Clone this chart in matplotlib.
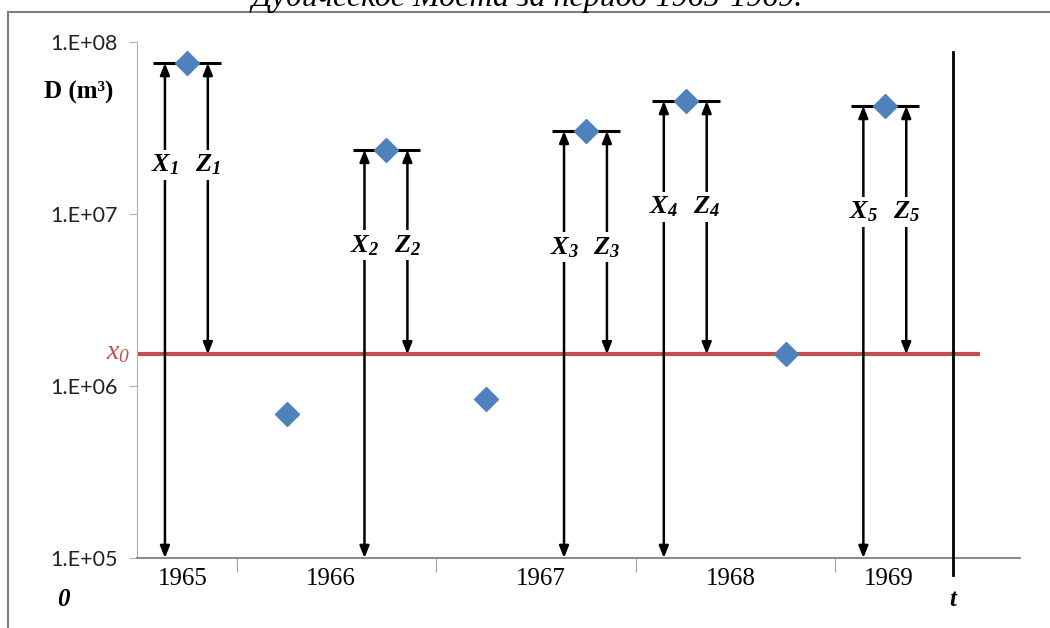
import numpy as np
import matplotlib.pyplot as plt
from matplotlib.lines import Line2D

plt.rcParams['mathtext.fontset'] = 'custom'
plt.rcParams['mathtext.it'] = 'Liberation Serif:italic:bold'
plt.rcParams['mathtext.rm'] = 'Liberation Serif:italic:bold'
plt.rcParams['mathtext.sf'] = 'Liberation Serif:italic'

# annual maxima of discharge volume D (m3), two per year
values = [7.55e7, 6.9e5, 2.36e7, 8.4e5, 3.04e7, 4.54e7, 1.53e6, 4.25e7]
x0 = 1.53e6
years = ['1965', '1966', '1967', '1968', '1969']
title = 'Дубическое Моста за период 1965-1969.'

# layout: where year captions and X/Z labels sit
year_pos = [0.96, 2.44, 4.55, 6.45, 8.03]
label_levels = [1.93e7, 6.6e6, 6.4e6, 1.1e7, 1.03e7]

W, H = 1050, 628
fig = plt.figure(figsize=(10.5, 6.28), dpi=100)
ax = fig.add_axes([137 / W, 1 - 558 / H, (1020 - 137) / W, (558 - 42) / H])
ax.set_yscale('log')
ax.set_xlim(0.5, 9.35)
ax.set_ylim(1e5, 1e8)

xs = np.arange(1, len(values) + 1)

# threshold line
ax.plot([0.5, 8.95], [x0, x0], color='#c0504d', lw=3, zorder=2, solid_capstyle='butt')

arrow = dict(arrowstyle='<|-|>,head_length=0.5,head_width=0.2', color='black',
             lw=1.8, shrinkA=0, shrinkB=0, mutation_scale=14)
lab = dict(fontsize=19, ha='center', va='center', zorder=6,
           bbox=dict(facecolor='white', edgecolor='none', pad=1.5))

k = 0
for x, v in zip(xs, values):
    if v <= x0:
        continue
    k += 1
    xa, za = x - 0.22, x + 0.21
    ax.hlines(v, x - 0.34, x + 0.34, color='black', lw=2.2, zorder=3)
    ax.annotate('', xy=(xa, v), xytext=(xa, 1e5), arrowprops=arrow, zorder=4,
                annotation_clip=False)
    ax.annotate('', xy=(za, v), xytext=(za, x0), arrowprops=arrow, zorder=4)
    ly = label_levels[k - 1]
    ax.text(xa, ly, r'$X_{%d}$' % k, **lab)
    ax.text(za, ly, r'$Z_{%d}$' % k, **lab)

ax.plot(xs, values, linestyle='none', marker='D', markersize=12,
        color='#4f81bd', markeredgecolor='#4f81bd', zorder=5)

# time axis end marker
ax.plot([8.68, 8.68], [10 ** 7.942, 10 ** 4.9], color='black', lw=2,
        clip_on=False, zorder=3)

# axes styling
for s in ['top', 'right']:
    ax.spines[s].set_visible(False)
ax.spines['left'].set_color('#b0b0b0')
ax.spines['bottom'].set_color('#808080')
ax.spines['bottom'].set_linewidth(1.3)

ax.set_yticks([1e5, 1e6, 1e7, 1e8])
ax.set_yticklabels(['1.E+05', '1.E+06', '1.E+07', '1.E+08'],
                   fontfamily='Lato', fontsize=15.5, color='#222222')
ax.yaxis.set_minor_locator(plt.NullLocator())
ax.tick_params(axis='y', which='major', direction='out', length=6, pad=8,
               color='#b0b0b0')

ax.set_xticks([1.5, 3.5, 5.5, 7.5])
ax.set_xticklabels([])
ax.tick_params(axis='x', which='major', direction='out', length=10,
               color='#a0a0a0')
ax.set_xticks(year_pos, minor=True)
ax.set_xticklabels(years, minor=True, fontfamily='Liberation Serif', fontsize=18)
ax.tick_params(axis='x', which='minor', length=0, pad=7)

ax.annotate(r'$\mathsf{x}_{\mathsf{0}}$', xy=(0, x0),
            xycoords=('axes fraction', 'data'), xytext=(-5, 2),
            textcoords='offset points', ha='right', va='center',
            color='#c0504d', fontsize=20)

serif_bi = dict(fontfamily='Liberation Serif', fontweight='bold',
                fontstyle='italic', fontsize=18, ha='center', va='center')
fig.text(63 / W, 1 - 600 / H, '0', **serif_bi)
fig.text(953 / W, 1 - 600 / H, 't', **serif_bi)
fig.text(79 / W, 1 - 92 / H, 'D (m³)', fontfamily='Liberation Serif',
         fontweight='bold', fontsize=18, ha='center', va='center')

fig.text(527 / W, 1 - 6 / H, title, fontfamily='Liberation Serif',
         fontstyle='italic', fontsize=23, ha='center', va='baseline')

# chart frame (left and top edges inside the image)
fig.add_artist(Line2D([8 / W, 8 / W], [0, 1 - 12 / H], color='#7f7f7f', lw=1.5))
fig.add_artist(Line2D([8 / W, 1], [1 - 12 / H, 1 - 12 / H], color='#7f7f7f', lw=1.5))

fig.savefig('out.png', dpi=100)
